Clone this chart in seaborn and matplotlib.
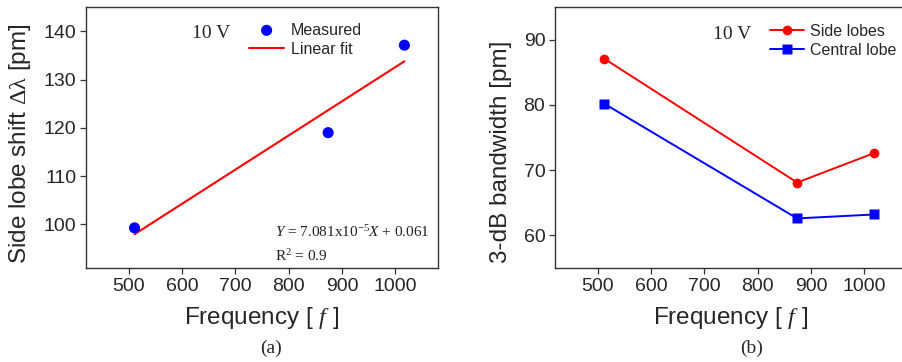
import numpy as np
import pandas as pd
import matplotlib
matplotlib.use("Agg")
import matplotlib.pyplot as plt
import seaborn as sns

sns.set_theme(style="ticks")
plt.rcParams["font.family"] = ["Liberation Sans", "DejaVu Sans"]
plt.rcParams["mathtext.fontset"] = "custom"
plt.rcParams["mathtext.rm"] = "Liberation Serif"
plt.rcParams["mathtext.it"] = "Liberation Serif:italic"

# panel (a): side lobe shift vs frequency
freq_a = [511, 874, 1017]
shift_pm = [99.3, 119.0, 137.1]

# panel (b): 3-dB bandwidth vs frequency
freq_b = [512, 874, 1018]
side_lobes_bw = [87.1, 68.1, 72.6]
central_lobe_bw = [80.2, 62.6, 63.2]

RED = "#ff0000"
BLUE = "#0000ff"
SERIF = "Liberation Serif"

fig = plt.figure(figsize=(9.02, 3.62), dpi=100)
W, H = 902, 362
ax1 = fig.add_axes([86 / W, 1 - 268 / H, 352 / W, 261 / H])
ax2 = fig.add_axes([555 / W, 1 - 268 / H, 352 / W, 261 / H])

# --- (a)
slope, icpt = np.polyfit(freq_a, shift_pm, 1)
fit_x = np.array([freq_a[0], freq_a[-1]])
fit_df = pd.DataFrame({"f": fit_x, "y": slope * fit_x + icpt})
sns.lineplot(data=fit_df, x="f", y="y", ax=ax1, color=RED, lw=1.5,
             label="Linear fit", zorder=2)
meas_df = pd.DataFrame({"f": freq_a, "y": shift_pm})
sns.scatterplot(data=meas_df, x="f", y="y", ax=ax1, color=BLUE, s=64,
                edgecolor="none", label="Measured", zorder=3)
ax1.set_xlim(420, 1080)
ax1.set_ylim(91, 145)
ax1.set_yticks([100, 110, 120, 130, 140])
ax1.set_ylabel(r"Side lobe shift $\mathrm{\Delta\lambda}$ [pm]", fontsize=17.5)
ax1.text(0.3, 0.897, "10 V", transform=ax1.transAxes, fontsize=14,
         family=SERIF, ha="left", va="center")
ax1.text(0.537, 0.137, r"$Y$ = 7.081x10$^{-5}$$X$ + 0.061",
         transform=ax1.transAxes, fontsize=11, family=SERIF, va="center",
         color="#222222")
ax1.text(0.537, 0.045, r"R$^{2}$ = 0.9", transform=ax1.transAxes,
         fontsize=11, family=SERIF, va="center", color="#222222")
h, l = ax1.get_legend_handles_labels()
order = [l.index("Measured"), l.index("Linear fit")]
ax1.legend([h[i] for i in order], [l[i] for i in order], frameon=False,
           fontsize=11.5, loc="upper left", bbox_to_anchor=(0.445, 0.965),
           handlelength=2.2, handletextpad=0.4, labelspacing=0.25,
           borderaxespad=0)

# --- (b)
bw_df = pd.DataFrame({
    "f": freq_b * 2,
    "bw": side_lobes_bw + central_lobe_bw,
    "lobe": ["Side lobes"] * 3 + ["Central lobe"] * 3,
})
sns.lineplot(data=bw_df, x="f", y="bw", hue="lobe", style="lobe", ax=ax2,
             palette={"Side lobes": RED, "Central lobe": BLUE},
             markers={"Side lobes": "o", "Central lobe": "s"}, dashes=False,
             markersize=7, markeredgecolor="none", lw=1.4)
ax2.set_xlim(420, 1080)
ax2.set_ylim(55, 95)
ax2.set_yticks([60, 70, 80, 90])
ax2.set_ylabel("3-dB bandwidth [pm]", fontsize=17.5)
ax2.text(0.448, 0.893, "10 V", transform=ax2.transAxes, fontsize=14,
         family=SERIF, ha="left", va="center")
ax2.legend(frameon=False, fontsize=11.5, loc="upper left",
           bbox_to_anchor=(0.594, 0.96), handlelength=2.1,
           handletextpad=0.4, labelspacing=0.25, borderaxespad=0)

for ax, ylx, yly in ((ax1, -0.15, 0.478), (ax2, -0.123, 0.445)):
    ax.set_xticks([500, 600, 700, 800, 900, 1000])
    ax.set_xlabel(r"Frequency [ $\mathit{f}$ ]", fontsize=17.5)
    ax.xaxis.set_label_coords(0.5, -0.14)
    ax.yaxis.set_label_coords(ylx, yly)
    ax.tick_params(labelsize=14, direction="out", length=4, width=0.9,
                   color="#333333", pad=3)
    for sp in ax.spines.values():
        sp.set_color("#333333")
        sp.set_linewidth(1.0)
        sp.set_visible(True)

fig.text(271 / W, 1 - 348 / H, "(a)", fontsize=14, family=SERIF,
         ha="center", va="center")
fig.text(752 / W, 1 - 348 / H, "(b)", fontsize=14, family=SERIF,
         ha="center", va="center")

fig.savefig("out.png", dpi=100)
